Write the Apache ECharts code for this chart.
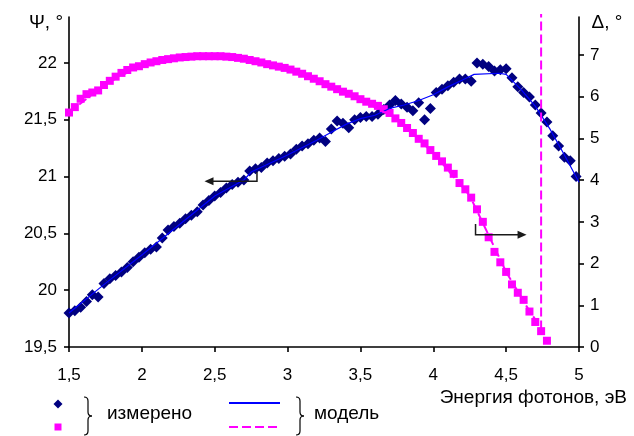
<!DOCTYPE html>
<html><head><meta charset="utf-8">
<script src="https://cdn.jsdelivr.net/npm/echarts@6.0.0/dist/echarts.min.js"></script>
<style>html,body{margin:0;padding:0;background:#fff}#c{width:634px;height:436px}</style>
</head><body><div id="c"></div>
<script>
// Photon energy grid of measurements, eV
const energies = [1.50,1.54,1.58,1.62,1.66,1.70,1.74,1.78,1.82,1.86,
1.90,1.94,1.98,2.02,2.06,2.10,2.14,2.18,2.22,2.26,
2.30,2.34,2.38,2.42,2.46,2.50,2.54,2.58,2.62,2.66,
2.70,2.74,2.78,2.82,2.86,2.90,2.94,2.98,3.02,3.06,
3.10,3.14,3.18,3.22,3.26,3.30,3.34,3.38,3.42,3.46,
3.50,3.54,3.58,3.62,3.66,3.70,3.74,3.78,3.82,3.86,
3.90,3.94,3.98,4.02,4.06,4.10,4.14,4.18,4.22,4.26,
4.30,4.34,4.38,4.42,4.46,4.50,4.54,4.58,4.62,4.66,
4.70,4.74,4.78,4.82,4.86,4.90,4.94,4.98];
// Measured Psi, degrees
const psiMeasured = [19.80,19.82,19.85,19.90,19.96,19.94,20.06,20.10,20.13,20.16,
20.20,20.25,20.29,20.33,20.36,20.38,20.46,20.53,20.56,20.59,
20.63,20.66,20.69,20.75,20.79,20.83,20.86,20.90,20.93,20.95,
20.97,21.05,21.07,21.08,21.12,21.14,21.16,21.18,21.20,21.24,
21.27,21.29,21.32,21.34,21.31,21.42,21.49,21.47,21.43,21.50,
21.52,21.53,21.53,21.55,21.59,21.63,21.67,21.64,21.61,21.58,
21.65,21.50,21.60,21.74,21.77,21.80,21.83,21.86,21.86,21.84,
22.00,21.99,21.97,21.93,21.94,21.95,21.87,21.79,21.74,21.70,
21.63,21.56,21.48,21.36,21.27,21.17,21.14,21.00];
// Measured Delta, degrees (null = below 0, out of range)
const deltaMeasured = [5.62,5.75,5.95,6.06,6.10,6.15,6.28,6.38,6.48,6.57,
6.64,6.70,6.73,6.78,6.82,6.85,6.88,6.90,6.92,6.94,
6.95,6.96,6.97,6.97,6.97,6.97,6.97,6.96,6.95,6.93,
6.91,6.88,6.85,6.82,6.78,6.75,6.72,6.69,6.65,6.60,
6.55,6.49,6.43,6.37,6.30,6.24,6.18,6.12,6.07,6.01,
5.94,5.88,5.83,5.78,5.70,5.61,5.48,5.37,5.25,5.13,
4.99,4.88,4.72,4.58,4.45,4.30,4.15,3.93,3.78,3.58,
3.30,3.00,2.63,2.28,2.03,1.80,1.50,1.30,1.13,0.85,
0.60,0.38,0.15,null,null,null,null,null];
// Model Psi
const modelPsiE = [1.50,1.75,2.00,2.25,2.50,2.70,2.75,3.00,3.20,3.30,3.40,3.50,3.60,3.70,3.80,3.90,4.00,4.10,4.20,4.28,4.45,4.50,4.60,4.70,4.80,4.90,5.00];
const modelPsi = [19.80,20.06,20.31,20.57,20.83,20.97,21.04,21.19,21.32,21.39,21.46,21.51,21.54,21.60,21.63,21.67,21.72,21.79,21.85,21.90,21.91,21.90,21.77,21.62,21.42,21.19,20.95];
// Model Delta
const modelDeltaE = [1.50,1.75,2.00,2.25,2.50,2.75,3.00,3.25,3.50,3.75,4.00,4.25,4.50,4.65,4.74,4.74];
const modelDelta = [5.62,6.30,6.76,6.93,6.97,6.88,6.68,6.33,5.94,5.46,4.65,3.63,1.80,0.92,0.45,7.98];
// Tick values
const xTicks = [1.5,2,2.5,3,3.5,4,4.5,5];
const psiTicks = [19.5,20,20.5,21,21.5,22];
const deltaTicks = [0,1,2,3,4,5,6,7];
// Annotation arrows (data coordinates)
const psiArrow = {x0:2.79, yTop:21.04, y:20.96, x1:2.43};
const deltaArrow = {x0:4.29, yTop:2.95, y:2.69, x1:4.64};

const fmt = v => String(v).replace('.', ',');
const FONT = 'Liberation Sans, Arial, sans-serif';
const axisLine = {show:true, lineStyle:{color:'#000', width:1.6}};
const axisTick = {show:true, inside:false, length:5, lineStyle:{color:'#000', width:1.6}};

const chart = echarts.init(document.getElementById('c'), null, {renderer:'canvas'});
const option = {
  animation:false,
  backgroundColor:'#fff',
  grid:{left:69, right:55, top:17, bottom:89, containLabel:false},
  xAxis:{type:'value', min:1.5, max:5, interval:0.5,
    axisLine:{...axisLine, onZero:false}, axisTick:{...axisTick},
    splitLine:{show:false},
    axisLabel:{formatter:fmt, fontSize:17, color:'#000', fontFamily:FONT, margin:20}},
  yAxis:[
    {type:'value', min:19.5, max:22.405, position:'left',
     axisLine:{...axisLine, onZero:false}, axisTick:{...axisTick, customValues:psiTicks},
     splitLine:{show:false},
     axisLabel:{customValues:psiTicks, formatter:fmt, fontSize:17, color:'#000', fontFamily:FONT, margin:12}},
    {type:'value', min:0, max:7.91, position:'right',
     axisLine:{...axisLine, onZero:false}, axisTick:{...axisTick, customValues:deltaTicks},
     splitLine:{show:false},
     axisLabel:{customValues:deltaTicks, formatter:fmt, fontSize:17, color:'#000', fontFamily:FONT, margin:11}}
  ],
  series:[
    {type:'scatter', yAxisIndex:0, symbol:'diamond', symbolSize:11,
     itemStyle:{color:'#000080', opacity:1}, data:energies.map((e,i)=>[e, psiMeasured[i]])},
    {type:'line', yAxisIndex:0, symbol:'none', lineStyle:{color:'#0000ff', width:1.2},
     data:modelPsiE.map((e,i)=>[e, modelPsi[i]])},
    {type:'scatter', yAxisIndex:1, symbol:'rect', symbolSize:8,
     itemStyle:{color:'#ff00ff', opacity:1},
     data:energies.map((e,i)=>[e, deltaMeasured[i]]).filter(d=>d[1]!==null)},
    {type:'line', yAxisIndex:1, symbol:'none', clip:false,
     lineStyle:{color:'#ff00ff', width:2, type:[9,4]},
     data:modelDeltaE.map((e,i)=>[e, modelDelta[i]])}
  ]
};
chart.setOption(option);

function px(a, x, y){ return chart.convertToPixel({xAxisIndex:0, yAxisIndex:a}, [x, y]); }
function arrow(a, arr){
  const p0 = px(a, arr.x0, arr.yTop), p1 = px(a, arr.x0, arr.y), p2 = px(a, arr.x1, arr.y);
  const dir = p2[0] < p1[0] ? -1 : 1;
  const tip = [p2[0], p2[1]];
  return [
    {type:'polyline', shape:{points:[p0, p1, [tip[0]-dir*6, tip[1]]]}, style:{stroke:'#1a1a1a', lineWidth:1.5, fill:null}, z:100},
    {type:'polygon', shape:{points:[tip, [tip[0]-dir*9, tip[1]-4], [tip[0]-dir*9, tip[1]+4]]}, style:{fill:'#1a1a1a'}, z:100}
  ];
}
function brace(x, y0, y1){
  const m = (y0+y1)/2;
  const st = {stroke:'#000', lineWidth:1.2, fill:null};
  return [
    {type:'bezierCurve', shape:{x1:x, y1:y0, cpx1:x+4, cpy1:y0, x2:x+4, y2:y0+4}, style:st},
    {type:'line', shape:{x1:x+4, y1:y0+4, x2:x+4, y2:m-4}, style:st},
    {type:'bezierCurve', shape:{x1:x+4, y1:m-4, cpx1:x+4, cpy1:m, x2:x+8, y2:m}, style:st},
    {type:'bezierCurve', shape:{x1:x+8, y1:m, cpx1:x+4, cpy1:m, x2:x+4, y2:m+4}, style:st},
    {type:'line', shape:{x1:x+4, y1:m+4, x2:x+4, y2:y1-4}, style:st},
    {type:'bezierCurve', shape:{x1:x+4, y1:y1-4, cpx1:x+4, cpy1:y1, x2:x, y2:y1}, style:st}
  ];
}
const txt = (x, y, s, size, align) => ({type:'text', x, y,
  style:{text:s, fontSize:size, fontFamily:FONT, fill:'#000', align:align||'left', verticalAlign:'middle'}});

chart.setOption({graphic:[
  ...arrow(0, psiArrow),
  ...arrow(1, deltaArrow),
  txt(46, 23, 'Ψ, °', 19, 'center'),
  txt(607, 23, 'Δ, °', 19, 'center'),
  txt(627, 398, 'Энергия фотонов, эВ', 19, 'right'),
  {type:'polygon', shape:{points:[[58,399.5],[62.5,404],[58,408.5],[53.5,404]]}, style:{fill:'#000080'}},
  {type:'rect', shape:{x:54.5, y:423.5, width:7, height:7}, style:{fill:'#ff00ff'}},
  ...brace(84, 397, 435),
  txt(107, 414, 'измерено', 19),
  {type:'line', shape:{x1:229, y1:403, x2:280, y2:403}, style:{stroke:'#0000ff', lineWidth:2}},
  {type:'line', shape:{x1:229, y1:427, x2:280, y2:427}, style:{stroke:'#ff00ff', lineWidth:2, lineDash:[9,4]}},
  ...brace(296, 397, 435),
  txt(314, 414, 'модель', 19)
]});
</script></body></html>
